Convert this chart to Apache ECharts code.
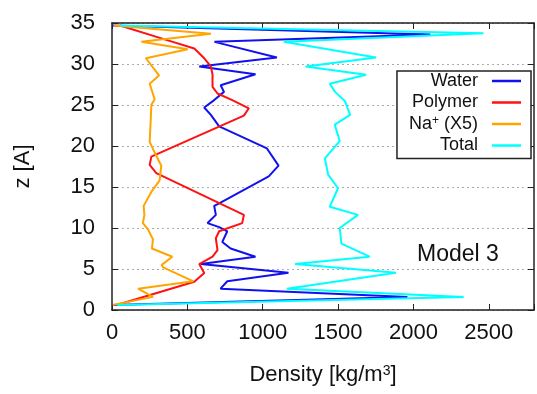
<!DOCTYPE html>
<html>
<head>
<meta charset="utf-8">
<script src="https://cdn.jsdelivr.net/npm/echarts@6/dist/echarts.min.js"></script>
<style>
  html, body { margin: 0; padding: 0; background: #fff; }
  #chart { width: 537px; height: 394px; }
</style>
</head>
<body>
<div id="chart"></div>
<script>
// density profiles along z (density in kg/m3, z in A)
const waterZ = [0.6, 1.6, 2.6, 3.5, 4.55, 5.6, 6.5, 7.5, 8.3, 9.6, 10.1, 10.6, 11.6, 12.7, 13.0, 16.3, 17.6, 19.7, 22.4, 23.8, 24.7, 25.6, 26.6, 27.4, 28.75, 29.7, 30.8, 32.7, 33.6, 34.7]
const water = [0, 1960, 720, 765, 1171, 590, 952, 787, 732, 765, 711, 634, 689, 678, 711, 1040, 1105, 1028, 711, 656, 612, 678, 743, 721, 952, 579, 1094, 680, 2112, 0]

const polymerZ = [0.6, 3.45, 4.5, 5.6, 6.5, 7.3, 8.75, 9.6, 10.6, 11.6, 16.7, 17.7, 18.7, 23.7, 24.6, 25.6, 26.4, 27.2, 28.7, 29.7, 30.7, 31.9, 33.0, 34.7]
const polymer = [31, 546, 612, 579, 667, 700, 689, 711, 864, 875, 294, 250, 261, 875, 908, 798, 700, 667, 667, 656, 612, 546, 349, 53]

const sodiumZ = [0.6, 1.6, 2.6, 3.5, 5.2, 5.5, 6.5, 7.5, 8.6, 9.8, 10.6, 11.6, 12.7, 14.4, 15.8, 17.6, 19.2, 20.5, 23.6, 25.0, 25.7, 27.6, 28.6, 30.7, 31.8, 32.7, 33.7, 34.7]
const sodium = [5, 272, 173, 540, 340, 330, 400, 265, 272, 240, 205, 215, 210, 261, 316, 327, 283, 250, 258, 261, 283, 250, 312, 225, 502, 195, 656, 10]

const totalZ = [0.6, 1.6, 2.6, 4.55, 5.6, 6.5, 8.1, 10.0, 11.6, 12.6, 14.85, 16.5, 18.5, 20.6, 22.6, 23.8, 25.5, 26.6, 27.6, 28.7, 29.7, 30.8, 32.7, 33.75, 34.7]
const total = [36, 2333, 1160, 1884, 1215, 1709, 1522, 1511, 1632, 1445, 1500, 1434, 1412, 1511, 1478, 1580, 1545, 1480, 1445, 1686, 1285, 1752, 1140, 2465, 55]

const seriesNames = ['Water', 'Polymer', 'Na+ (X5)', 'Total']
const seriesColors = ['#1111ee', '#ff1111', '#ffa500', '#00ffff']
const xTicks = [0, 500, 1000, 1500, 2000, 2500]

const font = '"Liberation Sans", Arial, sans-serif'

const pairs = (xs, zs) => xs.map((v, i) => [v, zs[i]])
const profiles = [pairs(water, waterZ), pairs(polymer, polymerZ), pairs(sodium, sodiumZ), pairs(total, totalZ)]

const chart = echarts.init(document.getElementById('chart'))

const xCommon = {
  type: 'value',
  min: 0,
  max: 2800,
  interval: 500,
  axisLine: { show: true, onZero: false, lineStyle: { color: '#222', width: 1.5 } },
  axisTick: { show: true, inside: true, length: 6, lineStyle: { color: '#222' } },
  splitLine: { show: false }
}
const yCommon = {
  type: 'value',
  min: 0,
  max: 35,
  interval: 5,
  axisLine: { show: true, onZero: false, lineStyle: { color: '#222', width: 1.5 } },
  axisTick: { show: true, inside: true, length: 6, lineStyle: { color: '#222' } }
}

const option = {
  animation: false,
  backgroundColor: '#fff',
  textStyle: { fontFamily: font },
  grid: { left: 112, right: 0, top: 23, bottom: 84, containLabel: false },
  legend: {
    orient: 'vertical',
    right: 6,
    top: 71,
    align: 'right',
    data: seriesNames,
    icon: 'rect',
    itemWidth: 29,
    itemHeight: 2.5,
    itemGap: 3.5,
    padding: [1, 10, 4, 12],
    borderColor: '#222',
    borderWidth: 1.5,
    backgroundColor: '#fff',
    formatter: name => name === 'Na+ (X5)' ? 'Na{sup|+} (X5)' : name,
    textStyle: {
      fontSize: 18,
      color: '#111',
      fontFamily: font,
      padding: [0, 9, 0, 0],
      rich: { sup: { fontSize: 12, verticalAlign: 'top', color: '#111', fontFamily: font } }
    }
  },
  xAxis: [
    Object.assign({}, xCommon, {
      position: 'bottom',
      name: 'Density [kg/m{sup|3}]',
      nameLocation: 'middle',
      nameGap: 54,
      nameTextStyle: {
        fontSize: 22,
        color: '#111',
        fontFamily: font,
        rich: { sup: { fontSize: 14, verticalAlign: 'top', color: '#111', fontFamily: font } }
      },
      axisLabel: {
        fontSize: 22,
        color: '#111',
        margin: 12,
        fontFamily: font,
        formatter: v => xTicks.includes(v) ? String(v) : ''
      }
    }),
    Object.assign({}, xCommon, { position: 'top', axisLabel: { show: false } })
  ],
  yAxis: [
    Object.assign({}, yCommon, {
      position: 'left',
      name: 'z [A]',
      nameLocation: 'middle',
      nameGap: 78,
      nameTextStyle: { fontSize: 22, color: '#111', fontFamily: font },
      axisLabel: { fontSize: 22, color: '#111', margin: 17, fontFamily: font },
      splitLine: { show: true, lineStyle: { color: '#aaa', type: [2, 3], width: 1 } }
    }),
    Object.assign({}, yCommon, { position: 'right', axisLabel: { show: false }, splitLine: { show: false } })
  ],
  graphic: [{
    type: 'text',
    left: 417,
    top: 243,
    style: { text: 'Model 3', font: '23px ' + font, fill: '#111' }
  }],
  series: profiles.map((d, i) => ({
    name: seriesNames[i],
    type: 'line',
    xAxisIndex: 0,
    yAxisIndex: 0,
    data: d,
    showSymbol: false,
    symbol: 'none',
    color: seriesColors[i],
    lineStyle: { color: seriesColors[i], width: 2 },
    z: 2 + i
  }))
}

chart.setOption(option)
</script>
</body>
</html>
